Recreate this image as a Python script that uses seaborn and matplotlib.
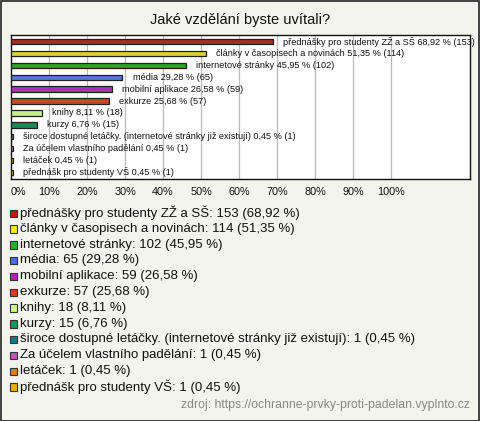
import matplotlib
matplotlib.use("Agg")
import matplotlib.pyplot as plt
import seaborn as sns
import pandas as pd
from matplotlib.patches import Rectangle

categories = [
    "přednášky pro studenty ZŽ a SŠ",
    "články v časopisech a novinách",
    "internetové stránky",
    "média",
    "mobilní aplikace",
    "exkurze",
    "knihy",
    "kurzy",
    "široce dostupné letáčky. (internetové stránky již existují)",
    "Za účelem vlastního padělání",
    "letáček",
    "přednášk pro studenty VŠ",
]
counts = [153, 114, 102, 65, 59, 57, 18, 15, 1, 1, 1, 1]
percents = [68.92, 51.35, 45.95, 29.28, 26.58, 25.68, 8.11, 6.76, 0.45, 0.45, 0.45, 0.45]
colors = ["#c0180c", "#f8e81c", "#18b818", "#4070f0", "#c018d0", "#e03c08",
          "#c8ff80", "#109858", "#18788c", "#c058c0", "#e87c08", "#e8b008"]
ticks = [0, 10, 20, 30, 40, 50, 60, 70, 80, 90, 100]

def fmt(v):
    return f"{v:.2f}".replace(".", ",")

df = pd.DataFrame({"cat": categories, "pct": percents, "n": counts})

sns.set_style("white")
plt.rcParams["font.family"] = ["Liberation Sans", "DejaVu Sans"]

W, H = 480, 421
bg = "#f4f4ee"
fig = plt.figure(figsize=(W / 100, H / 100), dpi=100, facecolor=bg)

# plot area box: x 11..470, y 35..179 px
ax = fig.add_axes([11 / W, 1 - 179 / H, (470 - 11) / W, (179 - 35) / H])
ax.set_facecolor("white")

sns.barplot(data=df, y="cat", x="pct", hue="cat", palette=colors, legend=False,
            orient="h", width=0.45, edgecolor="#202020", linewidth=0.9, ax=ax, zorder=3)

ax.set_xlim(0, 120.8)
ax.set_ylim(11.55, -0.55)
ax.set_xticks(ticks)
ax.set_xticklabels([f"{t}%" for t in ticks], fontsize=7.8, color="#111111")
ax.get_xticklabels()[0].set_horizontalalignment("left")
ax.tick_params(axis="x", length=0, pad=6)
ax.set_yticks([])
ax.set_xlabel("")
ax.set_ylabel("")
ax.grid(axis="x", color="#bbbbbb", linewidth=0.9, zorder=0)
ax.set_axisbelow(True)
for s in ax.spines.values():
    s.set_visible(True)
    s.set_color("#111111")
    s.set_linewidth(1.0)

for i, (c, p, n) in enumerate(zip(categories, percents, counts)):
    ax.text(p + 2.7, i, f"{c} {fmt(p)} % ({n})", fontsize=6.6, va="center", ha="left",
            color="#111111", clip_on=False, zorder=4)

fig.text(0.5, 1 - 20 / H, "Jaké vzdělání byste uvítali?", ha="center", va="center",
         fontsize=10.5, color="#111111")

# legend
y0 = 213
pitch = 15.8
for i, (c, p, n, col) in enumerate(zip(categories, percents, counts, colors)):
    y = y0 + i * pitch
    fig.add_artist(Rectangle((9.5 / W, 1 - (y + 4) / H), 7 / W, 7.5 / H,
                             transform=fig.transFigure, facecolor=col,
                             edgecolor="#333333", linewidth=0.8))
    fig.text(20 / W, 1 - y / H, f"{c}: {n} ({fmt(p)} %)", ha="left", va="center",
             fontsize=9.5, color="#111111")

fig.text(470 / W, 1 - 405 / H, "zdroj: https://ochranne-prvky-proti-padelan.vyplnto.cz",
         ha="right", va="center", fontsize=8.8, color="#888888")

fig.add_artist(Rectangle((0.5 / W, 0.5 / H), (W - 1.5) / W, (H - 1.5) / H,
                         transform=fig.transFigure, facecolor="none",
                         edgecolor="#222222", linewidth=1.2))

fig.savefig("out.png", dpi=100, facecolor=bg)
